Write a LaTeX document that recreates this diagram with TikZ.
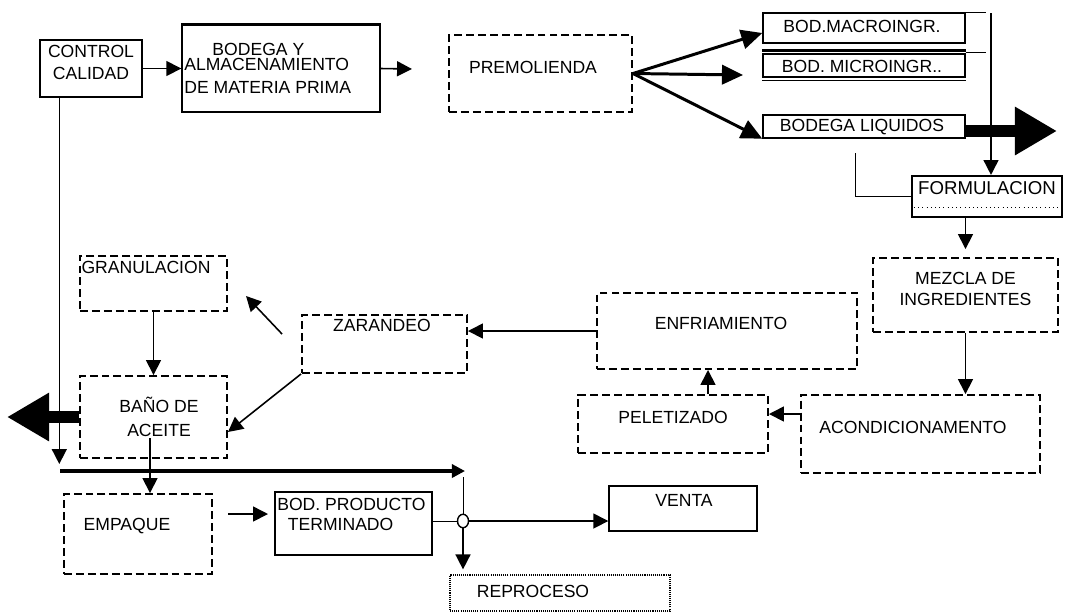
\documentclass[tikz,border=0pt]{standalone}
\usepackage{fontspec}
\setmainfont{Liberation Sans}
\usetikzlibrary{arrows.meta,fit,calc,shapes.geometric}
\begin{document}
\begin{tikzpicture}[x=0.2mm, y=-0.2mm,
    font=\fontsize{10}{13}\selectfont,
    caja/.style={draw, line width=0.8pt, inner sep=0pt},
    cajad/.style={caja, line width=1.1pt, dash pattern=on 4.5pt off 2.3pt},
    cajap/.style={caja, line width=0.7pt, dash pattern=on 0.6pt off 0.6pt},
    texto/.style={inner sep=0pt, align=center},
    flecha/.style={line width=0.9pt, -{Triangle[length=8.5pt,width=8.5pt]}},
    flechag/.style={line width=1.7pt, -{Triangle[length=12pt,width=11pt]}},
    flechah/.style={line width=1.8pt, -{Triangle[length=7.5pt,width=7.5pt]}},
    gruesa/.style={line width=7pt, -{Triangle[length=24pt,width=26pt]}}]
  \useasboundingbox (0,0) rectangle (1067,612);

  % recepcion
  \node[caja, texto, fit={(40,40) (142,97)}] (control) {CONTROL\\CALIDAD};
  \node[caja, fit={(182,25) (380,112)}] (bodega) {};
  \draw[line width=1.6pt] (bodega.north west) -- (bodega.north east);
  \node[texto, align=left, anchor=north west] (bodega-t) at (184,43)
    {\hspace*{16pt}BODEGA Y\\[-4.5pt]ALMACENAMIENTO\\DE MATERIA PRIMA};
  \node[cajad, fit={(449,35) (632,112)}] (premol) {};
  \node[texto] (premol-t) at (533,67) {PREMOLIENDA};

  % bodegas de ingredientes
  \node[caja, fit={(763,13) (965,43)}] (macro) {};
  \node[texto] (macro-t) at (862,26) {BOD.MACROINGR.};
  \node[caja, fit={(763,54) (965,77)}] (micro) {};
  \node[texto] (micro-t) at (862,66) {BOD. MICROINGR..};
  \draw[line width=1.4pt] ($(micro.north west)+(0,-3)$) -- ($(micro.north east)+(0,-3)$);
  \draw ($(micro.south west)+(0,2.5)$) -- ($(micro.south east)+(0,2.5)$);
  \draw (macro.north east) -- ++(20,0);
  \draw ($(micro.north east)+(0,-1)$) -- ++(20,0);
  \node[caja, fit={(763,115) (965,138)}] (liq) {};
  \node[texto] (liq-t) at (862,127) {BODEGA LIQUIDOS};

  \draw[flecha] (control) -- (bodega);
  \coordinate (bodega-sal) at (412,69);
  \draw[flecha] (bodega.east) -- (bodega-sal);
  \coordinate (micro-fl) at (743,75);
  \draw[flechag] (premol.east) -- ([yshift=-1mm]macro.west);
  \draw[flechag] (premol.east) -- (micro-fl);
  \draw[flechag] (premol.east) -- (liq.south west);
  \coordinate (liq-fin) at (1057,131);
  \draw[gruesa] (liq.east |- liq-fin) -- (liq-fin);

  % formulacion y mezcla
  \node[caja, line width=1.2pt, fit={(912,176) (1062,217)}] (form) {};
  \draw[dotted] ($(form.south west)+(3,-11)$) -- ($(form.south east)+(-3,-11)$);
  \node[texto, font=\fontsize{10.6}{13}\selectfont] (form-t) at (987,188) {FORMULACION};
  \coordinate (vtop) at (991,13);
  \draw[flecha] (vtop) -- (vtop |- form.north);
  \coordinate (liq-l) at (855,153);
  \draw (liq-l) |- (form.west);
  \node[cajad, texto, font=\fontsize{10}{11.5}\selectfont, fit={(873,258) (1058,332)}] (mezcla) {MEZCLA DE\\INGREDIENTES};
  \draw[flecha] (form.south -| mezcla.north) -- ($(mezcla.north)+(0,-8)$);

  \node[cajad, fit={(801,395) (1040,473)}] (acond) {};
  \node[texto] (acond-t) at (913,427) {ACONDICIONAMENTO};
  \draw[flecha] (mezcla.south) -- (mezcla.south |- acond.north);
  \node[cajad, texto, fit={(578,395) (768,453)}] (pelet) {PELETIZADO};
  \draw[flecha] ($(acond.west |- pelet.east)+(0,-10)$) -- ($(pelet.east)+(0,-10)$);
  \node[cajad, fit={(597,293) (857,369)}] (enfr) {};
  \node[texto] (enfr-t) at (721,323) {ENFRIAMIENTO};
  \coordinate (pelet-sal) at ($(pelet.north)+(35,0)$);
  \draw[flecha] (pelet-sal) -- (pelet-sal |- enfr.south);

  % zarandeo, granulacion, aceite
  \node[cajad, fit={(302,315) (467,373)}] (zar) {};
  \node[texto] (zar-t) at (382,325) {ZARANDEO};
  \draw[flecha] (enfr.west) -- (enfr.west -| zar.east);
  \node[cajad, fit={(80,256) (227,311)}] (gran) {};
  \node[texto] (gran-t) at (146,267) {GRANULACION};
  \node[cajad, fit={(80,376) (227,458)}] (bano) {};
  \node[texto, font=\fontsize{10}{14}\selectfont] (bano-t) at (159,417) {BAÑO DE\\ACEITE};
  \coordinate (zar-a) at ($(zar.west)+(-19,-10)$);
  \coordinate (zar-b) at ($(zar-a)+(-36,-38)$);
  \draw[flecha] (zar-a) -- (zar-b);
  \draw[flecha] (zar.south west) -- ([yshift=-3mm]bano.east);
  \draw[flecha] (gran) -- (bano);
  \coordinate (izq) at (7,417);
  \draw[gruesa] (bano.west) -- (izq);

  \coordinate (c1) at ($(control.south west)+(20,0)$);
  \coordinate (h0) at (60,471);
  \coordinate (h1) at (465,471);
  \draw[flecha] (c1) -- ($(c1 |- h0)+(0,-7)$);
  \draw[flechah] (h0) -- (h1);

  % empaque y salida
  \node[cajad, fit={(64,494) (212,574)}] (emp) {};
  \node[texto] (emp-t) at (127,526) {EMPAQUE};
  \coordinate (b1) at (150,438);
  \draw[flecha] (b1) -- (b1 |- emp.north);
  \node[caja, fit={(275,492) (432,555)}] (bpt) {};
  \node[texto, align=left, anchor=north west, font=\fontsize{10}{11.3}\selectfont] (bpt-t) at (277,498)
    {BOD. PRODUCTO\\\hspace*{6pt}TERMINADO};
  \coordinate (emp-a) at (228,514);
  \coordinate (emp-b) at (268,514);
  \draw[flecha] (emp-a) -- (emp-b);

  \node[draw, ellipse, line width=0.8pt, inner sep=0pt, minimum width=2.2mm, minimum height=2.7mm] (circ) at (463,521) {};
  \node[caja, fit={(609,486) (757,531)}] (venta) {};
  \node[texto] (venta-t) at (684,500) {VENTA};
  \node[cajap, fit={(450,575) (670,611)}] (repro) {};
  \node[texto] (repro-t) at (533,591) {REPROCESO};
  \draw (circ -| bpt.east) -- (circ.west);
  \draw[flecha] (circ.east) -- (circ.east -| venta.west);
  \draw ($(h1)+(-2,6)$) -- (circ.north);
  \draw[flecha] (circ.south) -- ($(circ.south |- repro.north)+(0,-5)$);
\end{tikzpicture}
\end{document}
